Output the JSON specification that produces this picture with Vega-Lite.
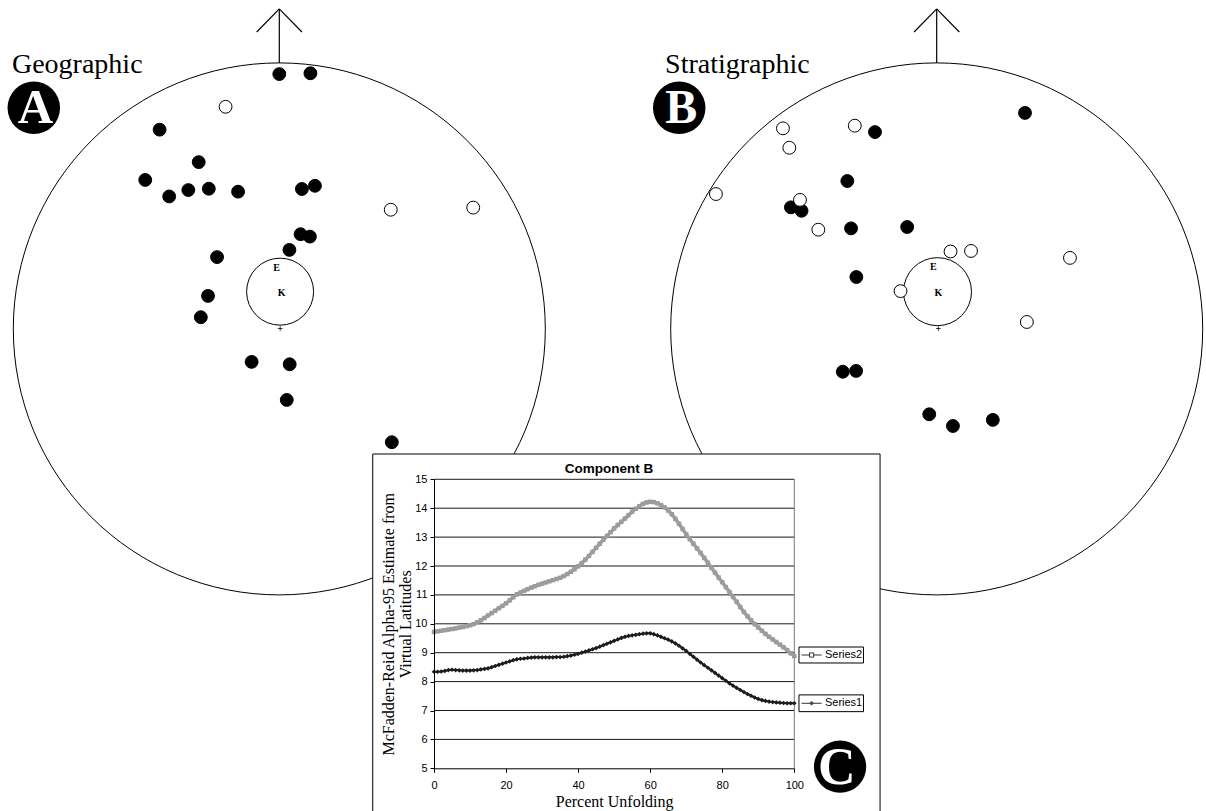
{
"$schema": "https://vega.github.io/schema/vega-lite/v6.json",
"width": 1206, "height": 811, "autosize": "none", "padding": 0, "background": "white",
"config": {"view": {"stroke": null}},
"datasets": {
"netA": [
{"x":0,"y":0.958,"polarity":"normal"},{"x":0.117,"y":0.961,"polarity":"normal"},{"x":-0.45,"y":0.749,"polarity":"normal"},{"x":-0.303,"y":0.627,"polarity":"normal"},{"x":-0.504,"y":0.56,"polarity":"normal"},{"x":-0.414,"y":0.498,"polarity":"normal"},{"x":-0.342,"y":0.522,"polarity":"normal"},{"x":-0.265,"y":0.527,"polarity":"normal"},{"x":-0.155,"y":0.516,"polarity":"normal"},{"x":0.085,"y":0.526,"polarity":"normal"},{"x":0.134,"y":0.538,"polarity":"normal"},{"x":0.08,"y":0.356,"polarity":"normal"},{"x":0.115,"y":0.347,"polarity":"normal"},{"x":0.038,"y":0.297,"polarity":"normal"},{"x":-0.234,"y":0.27,"polarity":"normal"},{"x":-0.268,"y":0.124,"polarity":"normal"},{"x":-0.295,"y":0.044,"polarity":"normal"},{"x":-0.104,"y":-0.124,"polarity":"normal"},{"x":0.039,"y":-0.133,"polarity":"normal"},{"x":0.028,"y":-0.267,"polarity":"normal"},{"x":0.423,"y":-0.426,"polarity":"normal"},
{"x":-0.202,"y":0.835,"polarity":"reversed"},{"x":0.419,"y":0.448,"polarity":"reversed"},{"x":0.729,"y":0.456,"polarity":"reversed"}
],
"netB": [
{"x":0.332,"y":0.812,"polarity":"normal"},{"x":-0.232,"y":0.74,"polarity":"normal"},{"x":-0.336,"y":0.556,"polarity":"normal"},{"x":-0.548,"y":0.457,"polarity":"normal"},{"x":-0.508,"y":0.444,"polarity":"normal"},{"x":-0.322,"y":0.378,"polarity":"normal"},{"x":-0.111,"y":0.383,"polarity":"normal"},{"x":-0.302,"y":0.195,"polarity":"normal"},{"x":-0.353,"y":-0.161,"polarity":"normal"},{"x":-0.303,"y":-0.158,"polarity":"normal"},{"x":-0.028,"y":-0.321,"polarity":"normal"},{"x":0.061,"y":-0.365,"polarity":"normal"},{"x":0.211,"y":-0.342,"polarity":"normal"},
{"x":-0.578,"y":0.754,"polarity":"reversed"},{"x":-0.554,"y":0.681,"polarity":"reversed"},{"x":-0.83,"y":0.507,"polarity":"reversed"},{"x":-0.308,"y":0.764,"polarity":"reversed"},{"x":-0.514,"y":0.485,"polarity":"reversed"},{"x":-0.445,"y":0.373,"polarity":"reversed"},{"x":0.052,"y":0.291,"polarity":"reversed"},{"x":0.129,"y":0.293,"polarity":"reversed"},{"x":0.501,"y":0.267,"polarity":"reversed"},{"x":0.339,"y":0.026,"polarity":"reversed"},{"x":-0.136,"y":0.142,"polarity":"reversed"}
],
"unfolding": [
{"pct":0,"value":9.72,"series":"Series2"},{"pct":1,"value":9.74,"series":"Series2"},{"pct":2,"value":9.76,"series":"Series2"},{"pct":3,"value":9.78,"series":"Series2"},{"pct":4,"value":9.8,"series":"Series2"},{"pct":5,"value":9.82,"series":"Series2"},{"pct":6,"value":9.84,"series":"Series2"},{"pct":7,"value":9.87,"series":"Series2"},{"pct":8,"value":9.89,"series":"Series2"},{"pct":9,"value":9.92,"series":"Series2"},{"pct":10,"value":9.95,"series":"Series2"},
{"pct":11,"value":9.99,"series":"Series2"},{"pct":12,"value":10.05,"series":"Series2"},{"pct":13,"value":10.12,"series":"Series2"},{"pct":14,"value":10.2,"series":"Series2"},{"pct":15,"value":10.29,"series":"Series2"},{"pct":16,"value":10.37,"series":"Series2"},{"pct":17,"value":10.45,"series":"Series2"},{"pct":18,"value":10.54,"series":"Series2"},{"pct":19,"value":10.62,"series":"Series2"},{"pct":20,"value":10.71,"series":"Series2"},
{"pct":21,"value":10.81,"series":"Series2"},{"pct":22,"value":10.92,"series":"Series2"},{"pct":23,"value":11.02,"series":"Series2"},{"pct":24,"value":11.08,"series":"Series2"},{"pct":25,"value":11.14,"series":"Series2"},{"pct":26,"value":11.2,"series":"Series2"},{"pct":27,"value":11.25,"series":"Series2"},{"pct":28,"value":11.3,"series":"Series2"},{"pct":29,"value":11.35,"series":"Series2"},{"pct":30,"value":11.39,"series":"Series2"},
{"pct":31,"value":11.43,"series":"Series2"},{"pct":32,"value":11.47,"series":"Series2"},{"pct":33,"value":11.51,"series":"Series2"},{"pct":34,"value":11.55,"series":"Series2"},{"pct":35,"value":11.59,"series":"Series2"},{"pct":36,"value":11.65,"series":"Series2"},{"pct":37,"value":11.72,"series":"Series2"},{"pct":38,"value":11.8,"series":"Series2"},{"pct":39,"value":11.89,"series":"Series2"},{"pct":40,"value":11.99,"series":"Series2"},
{"pct":41,"value":12.1,"series":"Series2"},{"pct":42,"value":12.22,"series":"Series2"},{"pct":43,"value":12.35,"series":"Series2"},{"pct":44,"value":12.49,"series":"Series2"},{"pct":45,"value":12.63,"series":"Series2"},{"pct":46,"value":12.77,"series":"Series2"},{"pct":47,"value":12.91,"series":"Series2"},{"pct":48,"value":13.04,"series":"Series2"},{"pct":49,"value":13.17,"series":"Series2"},{"pct":50,"value":13.3,"series":"Series2"},
{"pct":51,"value":13.42,"series":"Series2"},{"pct":52,"value":13.53,"series":"Series2"},{"pct":53,"value":13.64,"series":"Series2"},{"pct":54,"value":13.76,"series":"Series2"},{"pct":55,"value":13.88,"series":"Series2"},{"pct":56,"value":13.98,"series":"Series2"},{"pct":57,"value":14.07,"series":"Series2"},{"pct":58,"value":14.15,"series":"Series2"},{"pct":59,"value":14.2,"series":"Series2"},{"pct":60,"value":14.22,"series":"Series2"},
{"pct":61,"value":14.21,"series":"Series2"},{"pct":62,"value":14.17,"series":"Series2"},{"pct":63,"value":14.11,"series":"Series2"},{"pct":64,"value":14.03,"series":"Series2"},{"pct":65,"value":13.92,"series":"Series2"},{"pct":66,"value":13.79,"series":"Series2"},{"pct":67,"value":13.63,"series":"Series2"},{"pct":68,"value":13.46,"series":"Series2"},{"pct":69,"value":13.28,"series":"Series2"},{"pct":70,"value":13.1,"series":"Series2"},
{"pct":71,"value":12.93,"series":"Series2"},{"pct":72,"value":12.77,"series":"Series2"},{"pct":73,"value":12.61,"series":"Series2"},{"pct":74,"value":12.45,"series":"Series2"},{"pct":75,"value":12.28,"series":"Series2"},{"pct":76,"value":12.11,"series":"Series2"},{"pct":77,"value":11.94,"series":"Series2"},{"pct":78,"value":11.77,"series":"Series2"},{"pct":79,"value":11.6,"series":"Series2"},{"pct":80,"value":11.44,"series":"Series2"},
{"pct":81,"value":11.27,"series":"Series2"},{"pct":82,"value":11.1,"series":"Series2"},{"pct":83,"value":10.93,"series":"Series2"},{"pct":84,"value":10.76,"series":"Series2"},{"pct":85,"value":10.58,"series":"Series2"},{"pct":86,"value":10.41,"series":"Series2"},{"pct":87,"value":10.26,"series":"Series2"},{"pct":88,"value":10.12,"series":"Series2"},{"pct":89,"value":9.99,"series":"Series2"},{"pct":90,"value":9.87,"series":"Series2"},
{"pct":91,"value":9.76,"series":"Series2"},{"pct":92,"value":9.65,"series":"Series2"},{"pct":93,"value":9.55,"series":"Series2"},{"pct":94,"value":9.46,"series":"Series2"},{"pct":95,"value":9.37,"series":"Series2"},{"pct":96,"value":9.28,"series":"Series2"},{"pct":97,"value":9.19,"series":"Series2"},{"pct":98,"value":9.09,"series":"Series2"},{"pct":99,"value":8.98,"series":"Series2"},{"pct":100,"value":8.88,"series":"Series2"},
{"pct":0,"value":8.34,"series":"Series1"},{"pct":1,"value":8.34,"series":"Series1"},{"pct":2,"value":8.35,"series":"Series1"},{"pct":3,"value":8.37,"series":"Series1"},{"pct":4,"value":8.4,"series":"Series1"},{"pct":5,"value":8.41,"series":"Series1"},{"pct":6,"value":8.4,"series":"Series1"},{"pct":7,"value":8.39,"series":"Series1"},{"pct":8,"value":8.38,"series":"Series1"},{"pct":9,"value":8.38,"series":"Series1"},{"pct":10,"value":8.38,"series":"Series1"},
{"pct":11,"value":8.39,"series":"Series1"},{"pct":12,"value":8.4,"series":"Series1"},{"pct":13,"value":8.42,"series":"Series1"},{"pct":14,"value":8.44,"series":"Series1"},{"pct":15,"value":8.46,"series":"Series1"},{"pct":16,"value":8.5,"series":"Series1"},{"pct":17,"value":8.54,"series":"Series1"},{"pct":18,"value":8.58,"series":"Series1"},{"pct":19,"value":8.62,"series":"Series1"},{"pct":20,"value":8.66,"series":"Series1"},
{"pct":21,"value":8.7,"series":"Series1"},{"pct":22,"value":8.74,"series":"Series1"},{"pct":23,"value":8.77,"series":"Series1"},{"pct":24,"value":8.79,"series":"Series1"},{"pct":25,"value":8.8,"series":"Series1"},{"pct":26,"value":8.82,"series":"Series1"},{"pct":27,"value":8.83,"series":"Series1"},{"pct":28,"value":8.84,"series":"Series1"},{"pct":29,"value":8.84,"series":"Series1"},{"pct":30,"value":8.84,"series":"Series1"},
{"pct":31,"value":8.84,"series":"Series1"},{"pct":32,"value":8.84,"series":"Series1"},{"pct":33,"value":8.84,"series":"Series1"},{"pct":34,"value":8.85,"series":"Series1"},{"pct":35,"value":8.85,"series":"Series1"},{"pct":36,"value":8.86,"series":"Series1"},{"pct":37,"value":8.88,"series":"Series1"},{"pct":38,"value":8.9,"series":"Series1"},{"pct":39,"value":8.93,"series":"Series1"},{"pct":40,"value":8.96,"series":"Series1"},
{"pct":41,"value":9.0,"series":"Series1"},{"pct":42,"value":9.04,"series":"Series1"},{"pct":43,"value":9.08,"series":"Series1"},{"pct":44,"value":9.12,"series":"Series1"},{"pct":45,"value":9.16,"series":"Series1"},{"pct":46,"value":9.21,"series":"Series1"},{"pct":47,"value":9.26,"series":"Series1"},{"pct":48,"value":9.31,"series":"Series1"},{"pct":49,"value":9.36,"series":"Series1"},{"pct":50,"value":9.41,"series":"Series1"},
{"pct":51,"value":9.46,"series":"Series1"},{"pct":52,"value":9.51,"series":"Series1"},{"pct":53,"value":9.55,"series":"Series1"},{"pct":54,"value":9.58,"series":"Series1"},{"pct":55,"value":9.6,"series":"Series1"},{"pct":56,"value":9.62,"series":"Series1"},{"pct":57,"value":9.64,"series":"Series1"},{"pct":58,"value":9.66,"series":"Series1"},{"pct":59,"value":9.67,"series":"Series1"},{"pct":60,"value":9.67,"series":"Series1"},
{"pct":61,"value":9.64,"series":"Series1"},{"pct":62,"value":9.6,"series":"Series1"},{"pct":63,"value":9.55,"series":"Series1"},{"pct":64,"value":9.5,"series":"Series1"},{"pct":65,"value":9.45,"series":"Series1"},{"pct":66,"value":9.39,"series":"Series1"},{"pct":67,"value":9.32,"series":"Series1"},{"pct":68,"value":9.24,"series":"Series1"},{"pct":69,"value":9.15,"series":"Series1"},{"pct":70,"value":9.06,"series":"Series1"},
{"pct":71,"value":8.96,"series":"Series1"},{"pct":72,"value":8.86,"series":"Series1"},{"pct":73,"value":8.76,"series":"Series1"},{"pct":74,"value":8.66,"series":"Series1"},{"pct":75,"value":8.57,"series":"Series1"},{"pct":76,"value":8.48,"series":"Series1"},{"pct":77,"value":8.39,"series":"Series1"},{"pct":78,"value":8.3,"series":"Series1"},{"pct":79,"value":8.21,"series":"Series1"},{"pct":80,"value":8.12,"series":"Series1"},
{"pct":81,"value":8.03,"series":"Series1"},{"pct":82,"value":7.94,"series":"Series1"},{"pct":83,"value":7.86,"series":"Series1"},{"pct":84,"value":7.78,"series":"Series1"},{"pct":85,"value":7.71,"series":"Series1"},{"pct":86,"value":7.64,"series":"Series1"},{"pct":87,"value":7.57,"series":"Series1"},{"pct":88,"value":7.51,"series":"Series1"},{"pct":89,"value":7.45,"series":"Series1"},{"pct":90,"value":7.4,"series":"Series1"},
{"pct":91,"value":7.36,"series":"Series1"},{"pct":92,"value":7.33,"series":"Series1"},{"pct":93,"value":7.31,"series":"Series1"},{"pct":94,"value":7.29,"series":"Series1"},{"pct":95,"value":7.28,"series":"Series1"},{"pct":96,"value":7.27,"series":"Series1"},{"pct":97,"value":7.26,"series":"Series1"},{"pct":98,"value":7.25,"series":"Series1"},{"pct":99,"value":7.25,"series":"Series1"},{"pct":100,"value":7.25,"series":"Series1"}
]
},
"layer": [
{
"layer": [
{"data":{"values":[{}]},"mark":{"type":"point","shape":"circle","filled":false,"size":283024,"stroke":"black","strokeWidth":1,"opacity":1},
 "encoding":{"x":{"datum":0,"type":"quantitative","scale":{"domain":[-1,1],"range":[13.3,545.3],"nice":false,"zero":false},"axis":null},"y":{"datum":0,"type":"quantitative","scale":{"domain":[-1,1],"range":[594.9,62.9],"nice":false,"zero":false},"axis":null}}},
{"data":{"values":[{}]},"mark":{"type":"point","shape":"circle","filled":false,"size":4489,"stroke":"black","strokeWidth":1,"opacity":1},
 "encoding":{"x":{"datum":0.003,"type":"quantitative","scale":{"domain":[-1,1],"range":[13.3,545.3],"nice":false,"zero":false},"axis":null},"y":{"datum":0.14,"type":"quantitative","scale":{"domain":[-1,1],"range":[594.9,62.9],"nice":false,"zero":false},"axis":null}}},
{"data":{"values":[{}]},"mark":{"type":"rule","stroke":"black","strokeWidth":1.2},
 "encoding":{"x":{"datum":0,"type":"quantitative","scale":{"domain":[-1,1],"range":[13.3,545.3],"nice":false,"zero":false},"axis":null},"y":{"datum":1,"type":"quantitative","scale":{"domain":[-1,1],"range":[594.9,62.9],"nice":false,"zero":false},"axis":null},"y2":{"datum":1.203}}},
{"data":{"values":[{}]},"mark":{"type":"rule","stroke":"black","strokeWidth":1.2},
 "encoding":{"x":{"datum":-0.085,"type":"quantitative","scale":{"domain":[-1,1],"range":[13.3,545.3],"nice":false,"zero":false},"axis":null},"y":{"datum":1.116,"type":"quantitative","scale":{"domain":[-1,1],"range":[594.9,62.9],"nice":false,"zero":false},"axis":null},"x2":{"datum":0},"y2":{"datum":1.203}}},
{"data":{"values":[{}]},"mark":{"type":"rule","stroke":"black","strokeWidth":1.2},
 "encoding":{"x":{"datum":0.085,"type":"quantitative","scale":{"domain":[-1,1],"range":[13.3,545.3],"nice":false,"zero":false},"axis":null},"y":{"datum":1.116,"type":"quantitative","scale":{"domain":[-1,1],"range":[594.9,62.9],"nice":false,"zero":false},"axis":null},"x2":{"datum":0},"y2":{"datum":1.203}}},
{"data":{"values":[{}]},"mark":{"type":"text","text":"E","font":"Liberation Serif","fontSize":10,"fontWeight":"bold","color":"black"},
 "encoding":{"x":{"datum":-0.01,"type":"quantitative","scale":{"domain":[-1,1],"range":[13.3,545.3],"nice":false,"zero":false},"axis":null},"y":{"datum":0.228,"type":"quantitative","scale":{"domain":[-1,1],"range":[594.9,62.9],"nice":false,"zero":false},"axis":null}}},
{"data":{"values":[{}]},"mark":{"type":"text","text":"K","font":"Liberation Serif","fontSize":10,"fontWeight":"bold","color":"black"},
 "encoding":{"x":{"datum":0.009,"type":"quantitative","scale":{"domain":[-1,1],"range":[13.3,545.3],"nice":false,"zero":false},"axis":null},"y":{"datum":0.136,"type":"quantitative","scale":{"domain":[-1,1],"range":[594.9,62.9],"nice":false,"zero":false},"axis":null}}},
{"data":{"values":[{}]},"mark":{"type":"text","text":"+","font":"Liberation Serif","fontSize":10,"fontWeight":"bold","color":"black"},
 "encoding":{"x":{"datum":0.003,"type":"quantitative","scale":{"domain":[-1,1],"range":[13.3,545.3],"nice":false,"zero":false},"axis":null},"y":{"datum":0,"type":"quantitative","scale":{"domain":[-1,1],"range":[594.9,62.9],"nice":false,"zero":false},"axis":null}}},
{"data":{"values":[{}]},"mark":{"type":"text","text":"Geographic","font":"Liberation Serif","fontSize":28,"align":"left","baseline":"alphabetic","color":"black"},
 "encoding":{"x":{"datum":-1.005,"type":"quantitative","scale":{"domain":[-1,1],"range":[13.3,545.3],"nice":false,"zero":false},"axis":null},"y":{"datum":0.962,"type":"quantitative","scale":{"domain":[-1,1],"range":[594.9,62.9],"nice":false,"zero":false},"axis":null}}},
{"data":{"values":[{}]},"mark":{"type":"point","shape":"circle","filled":true,"size":2756,"color":"black","opacity":1},
 "encoding":{"x":{"datum":-0.923,"type":"quantitative","scale":{"domain":[-1,1],"range":[13.3,545.3],"nice":false,"zero":false},"axis":null},"y":{"datum":0.831,"type":"quantitative","scale":{"domain":[-1,1],"range":[594.9,62.9],"nice":false,"zero":false},"axis":null}}},
{"data":{"values":[{}]},"mark":{"type":"text","text":"A","font":"Liberation Serif","fontSize":49,"fontWeight":"bold","align":"center","baseline":"alphabetic","color":"white"},
 "encoding":{"x":{"datum":-0.917,"type":"quantitative","scale":{"domain":[-1,1],"range":[13.3,545.3],"nice":false,"zero":false},"axis":null},"y":{"datum":0.773,"type":"quantitative","scale":{"domain":[-1,1],"range":[594.9,62.9],"nice":false,"zero":false},"axis":null}}},
{"data":{"name":"netA"},"mark":{"type":"point","shape":"circle","filled":true,"size":165,"stroke":"black","strokeWidth":1,"opacity":1},
 "encoding":{"x":{"field":"x","type":"quantitative","scale":{"domain":[-1,1],"range":[13.3,545.3],"nice":false,"zero":false},"axis":null},"y":{"field":"y","type":"quantitative","scale":{"domain":[-1,1],"range":[594.9,62.9],"nice":false,"zero":false},"axis":null},
 "fill":{"field":"polarity","type":"nominal","scale":{"domain":["normal","reversed"],"range":["black","white"]},"legend":null}}}
]
},
{
"layer": [
{"data":{"values":[{}]},"mark":{"type":"point","shape":"circle","filled":false,"size":283024,"stroke":"black","strokeWidth":1,"opacity":1},
 "encoding":{"x":{"datum":0,"type":"quantitative","scale":{"domain":[-1,1],"range":[670.7,1202.7],"nice":false,"zero":false},"axis":null},"y":{"datum":0,"type":"quantitative","scale":{"domain":[-1,1],"range":[594.9,62.9],"nice":false,"zero":false},"axis":null}}},
{"data":{"values":[{}]},"mark":{"type":"point","shape":"circle","filled":false,"size":4624,"stroke":"black","strokeWidth":1,"opacity":1},
 "encoding":{"x":{"datum":0.003,"type":"quantitative","scale":{"domain":[-1,1],"range":[670.7,1202.7],"nice":false,"zero":false},"axis":null},"y":{"datum":0.14,"type":"quantitative","scale":{"domain":[-1,1],"range":[594.9,62.9],"nice":false,"zero":false},"axis":null}}},
{"data":{"values":[{}]},"mark":{"type":"rule","stroke":"black","strokeWidth":1.2},
 "encoding":{"x":{"datum":0,"type":"quantitative","scale":{"domain":[-1,1],"range":[670.7,1202.7],"nice":false,"zero":false},"axis":null},"y":{"datum":1,"type":"quantitative","scale":{"domain":[-1,1],"range":[594.9,62.9],"nice":false,"zero":false},"axis":null},"y2":{"datum":1.203}}},
{"data":{"values":[{}]},"mark":{"type":"rule","stroke":"black","strokeWidth":1.2},
 "encoding":{"x":{"datum":-0.085,"type":"quantitative","scale":{"domain":[-1,1],"range":[670.7,1202.7],"nice":false,"zero":false},"axis":null},"y":{"datum":1.116,"type":"quantitative","scale":{"domain":[-1,1],"range":[594.9,62.9],"nice":false,"zero":false},"axis":null},"x2":{"datum":0},"y2":{"datum":1.203}}},
{"data":{"values":[{}]},"mark":{"type":"rule","stroke":"black","strokeWidth":1.2},
 "encoding":{"x":{"datum":0.085,"type":"quantitative","scale":{"domain":[-1,1],"range":[670.7,1202.7],"nice":false,"zero":false},"axis":null},"y":{"datum":1.116,"type":"quantitative","scale":{"domain":[-1,1],"range":[594.9,62.9],"nice":false,"zero":false},"axis":null},"x2":{"datum":0},"y2":{"datum":1.203}}},
{"data":{"values":[{}]},"mark":{"type":"text","text":"E","font":"Liberation Serif","fontSize":10,"fontWeight":"bold","color":"black"},
 "encoding":{"x":{"datum":-0.013,"type":"quantitative","scale":{"domain":[-1,1],"range":[670.7,1202.7],"nice":false,"zero":false},"axis":null},"y":{"datum":0.232,"type":"quantitative","scale":{"domain":[-1,1],"range":[594.9,62.9],"nice":false,"zero":false},"axis":null}}},
{"data":{"values":[{}]},"mark":{"type":"text","text":"K","font":"Liberation Serif","fontSize":10,"fontWeight":"bold","color":"black"},
 "encoding":{"x":{"datum":0.006,"type":"quantitative","scale":{"domain":[-1,1],"range":[670.7,1202.7],"nice":false,"zero":false},"axis":null},"y":{"datum":0.136,"type":"quantitative","scale":{"domain":[-1,1],"range":[594.9,62.9],"nice":false,"zero":false},"axis":null}}},
{"data":{"values":[{}]},"mark":{"type":"text","text":"+","font":"Liberation Serif","fontSize":10,"fontWeight":"bold","color":"black"},
 "encoding":{"x":{"datum":0.006,"type":"quantitative","scale":{"domain":[-1,1],"range":[670.7,1202.7],"nice":false,"zero":false},"axis":null},"y":{"datum":0,"type":"quantitative","scale":{"domain":[-1,1],"range":[594.9,62.9],"nice":false,"zero":false},"axis":null}}},
{"data":{"values":[{}]},"mark":{"type":"text","text":"Stratigraphic","font":"Liberation Serif","fontSize":28,"align":"left","baseline":"alphabetic","color":"black"},
 "encoding":{"x":{"datum":-1.021,"type":"quantitative","scale":{"domain":[-1,1],"range":[670.7,1202.7],"nice":false,"zero":false},"axis":null},"y":{"datum":0.962,"type":"quantitative","scale":{"domain":[-1,1],"range":[594.9,62.9],"nice":false,"zero":false},"axis":null}}},
{"data":{"values":[{}]},"mark":{"type":"point","shape":"circle","filled":true,"size":2756,"color":"black","opacity":1},
 "encoding":{"x":{"datum":-0.968,"type":"quantitative","scale":{"domain":[-1,1],"range":[670.7,1202.7],"nice":false,"zero":false},"axis":null},"y":{"datum":0.831,"type":"quantitative","scale":{"domain":[-1,1],"range":[594.9,62.9],"nice":false,"zero":false},"axis":null}}},
{"data":{"values":[{}]},"mark":{"type":"text","text":"B","font":"Liberation Serif","fontSize":48,"fontWeight":"bold","align":"center","baseline":"alphabetic","color":"white"},
 "encoding":{"x":{"datum":-0.96,"type":"quantitative","scale":{"domain":[-1,1],"range":[670.7,1202.7],"nice":false,"zero":false},"axis":null},"y":{"datum":0.773,"type":"quantitative","scale":{"domain":[-1,1],"range":[594.9,62.9],"nice":false,"zero":false},"axis":null}}},
{"data":{"name":"netB"},"mark":{"type":"point","shape":"circle","filled":true,"size":165,"stroke":"black","strokeWidth":1,"opacity":1},
 "encoding":{"x":{"field":"x","type":"quantitative","scale":{"domain":[-1,1],"range":[670.7,1202.7],"nice":false,"zero":false},"axis":null},"y":{"field":"y","type":"quantitative","scale":{"domain":[-1,1],"range":[594.9,62.9],"nice":false,"zero":false},"axis":null},
 "fill":{"field":"polarity","type":"nominal","scale":{"domain":["normal","reversed"],"range":["black","white"]},"legend":null}}}
]
},
{
"layer": [
{"data":{"values":[{}]},"mark":{"type":"rect","fill":"white","stroke":"black","strokeWidth":1},
 "encoding":{"x":{"datum":-17,"type":"quantitative","scale":{"domain":[0,100],"range":[434,794.3],"nice":false,"zero":false}},"x2":{"datum":123.8},"y":{"datum":15.875,"type":"quantitative","scale":{"domain":[5,15],"range":[768.3,479.3],"nice":false,"zero":false}},"y2":{"datum":3.3}}},
{"data":{"values":[{"level":6},{"level":7},{"level":8},{"level":9},{"level":10},{"level":11},{"level":12},{"level":13},{"level":14},{"level":15}]},"mark":{"type":"rule","stroke":"#1a1a1a","strokeWidth":1},
 "encoding":{"x":{"datum":0,"type":"quantitative","scale":{"domain":[0,100],"range":[434,794.3],"nice":false,"zero":false}},"x2":{"datum":100},"y":{"field":"level","type":"quantitative","scale":{"domain":[5,15],"range":[768.3,479.3],"nice":false,"zero":false}}}},
{"data":{"values":[{}]},"mark":{"type":"rule","stroke":"#777777","strokeWidth":1},
 "encoding":{"x":{"datum":100,"type":"quantitative","scale":{"domain":[0,100],"range":[434,794.3],"nice":false,"zero":false}},"y":{"datum":5,"type":"quantitative","scale":{"domain":[5,15],"range":[768.3,479.3],"nice":false,"zero":false}},"y2":{"datum":15}}},
{"data":{"name":"unfolding"},"transform":[{"filter":"datum.series === 'Series2'"}],"mark":{"type":"line","stroke":"#9c9c9c","strokeWidth":3.5},
 "encoding":{"x":{"field":"pct","type":"quantitative","scale":{"domain":[0,100],"range":[434,794.3],"nice":false,"zero":false},
   "axis":{"orient":"bottom","offset":-42.7,"title":"Percent Unfolding","values":[0,20,40,60,80,100],"format":"d","grid":false,"domainColor":"black","tickColor":"black","tickSize":4,"labelPadding":7,"labelFont":"Liberation Sans","labelFontSize":11,"labelColor":"black","labelFlush":false,"titleFont":"Liberation Serif","titleFontSize":16,"titleFontWeight":"normal","titleColor":"black","titlePadding":3,"zindex":1}},
  "y":{"field":"value","type":"quantitative","scale":{"domain":[5,15],"range":[768.3,479.3],"nice":false,"zero":false},
   "axis":{"orient":"left","offset":-434,"title":["McFadden-Reid Alpha-95 Estimate from","Virtual Latitudes"],"values":[5,6,7,8,9,10,11,12,13,14,15],"format":"d","grid":false,"domainColor":"black","tickColor":"black","tickSize":4,"labelPadding":3,"labelFont":"Liberation Sans","labelFontSize":11,"labelColor":"black","labelFlush":false,"titleFont":"Liberation Serif","titleFontSize":16,"titleFontWeight":"normal","titleColor":"black","titlePadding":1,"titleLineHeight":17,"zindex":1}}}},
{"data":{"name":"unfolding"},"transform":[{"filter":"datum.series === 'Series2'"}],"mark":{"type":"point","shape":"square","filled":true,"size":20,"color":"#9c9c9c","opacity":1},
 "encoding":{"x":{"field":"pct","type":"quantitative","scale":{"domain":[0,100],"range":[434,794.3],"nice":false,"zero":false}},"y":{"field":"value","type":"quantitative","scale":{"domain":[5,15],"range":[768.3,479.3],"nice":false,"zero":false}}}},
{"data":{"name":"unfolding"},"transform":[{"filter":"datum.series === 'Series1'"}],"mark":{"type":"line","stroke":"#1c1c1c","strokeWidth":2},
 "encoding":{"x":{"field":"pct","type":"quantitative","scale":{"domain":[0,100],"range":[434,794.3],"nice":false,"zero":false}},"y":{"field":"value","type":"quantitative","scale":{"domain":[5,15],"range":[768.3,479.3],"nice":false,"zero":false}}}},
{"data":{"name":"unfolding"},"transform":[{"filter":"datum.series === 'Series1'"}],"mark":{"type":"point","shape":"diamond","filled":true,"size":22,"color":"#1c1c1c","opacity":1},
 "encoding":{"x":{"field":"pct","type":"quantitative","scale":{"domain":[0,100],"range":[434,794.3],"nice":false,"zero":false}},"y":{"field":"value","type":"quantitative","scale":{"domain":[5,15],"range":[768.3,479.3],"nice":false,"zero":false}}}},
{"data":{"values":[{}]},"mark":{"type":"text","text":"Component B","font":"Liberation Sans","fontSize":13.5,"fontWeight":"bold","align":"center","baseline":"alphabetic","color":"black"},
 "encoding":{"x":{"datum":48.6,"type":"quantitative","scale":{"domain":[0,100],"range":[434,794.3],"nice":false,"zero":false}},"y":{"datum":15.22,"type":"quantitative","scale":{"domain":[5,15],"range":[768.3,479.3],"nice":false,"zero":false}}}},
{"data":{"values":[{}]},"mark":{"type":"rect","fill":"white","stroke":"black","strokeWidth":1},
 "encoding":{"x":{"datum":101.3,"type":"quantitative","scale":{"domain":[0,100],"range":[434,794.3],"nice":false,"zero":false}},"x2":{"datum":119.2},"y":{"datum":9.197,"type":"quantitative","scale":{"domain":[5,15],"range":[768.3,479.3],"nice":false,"zero":false}},"y2":{"datum":8.644}}},
{"data":{"values":[{}]},"mark":{"type":"rule","stroke":"#333333","strokeWidth":1},
 "encoding":{"x":{"datum":102,"type":"quantitative","scale":{"domain":[0,100],"range":[434,794.3],"nice":false,"zero":false}},"x2":{"datum":107.6},"y":{"datum":8.92,"type":"quantitative","scale":{"domain":[5,15],"range":[768.3,479.3],"nice":false,"zero":false}}}},
{"data":{"values":[{}]},"mark":{"type":"point","shape":"square","filled":true,"size":18,"fill":"white","stroke":"#333333","strokeWidth":1,"opacity":1},
 "encoding":{"x":{"datum":104.8,"type":"quantitative","scale":{"domain":[0,100],"range":[434,794.3],"nice":false,"zero":false}},"y":{"datum":8.92,"type":"quantitative","scale":{"domain":[5,15],"range":[768.3,479.3],"nice":false,"zero":false}}}},
{"data":{"values":[{}]},"mark":{"type":"text","text":"Series2","font":"Liberation Sans","fontSize":11,"align":"left","baseline":"middle","color":"black"},
 "encoding":{"x":{"datum":108.5,"type":"quantitative","scale":{"domain":[0,100],"range":[434,794.3],"nice":false,"zero":false}},"y":{"datum":8.92,"type":"quantitative","scale":{"domain":[5,15],"range":[768.3,479.3],"nice":false,"zero":false}}}},
{"data":{"values":[{}]},"mark":{"type":"rect","fill":"white","stroke":"black","strokeWidth":1},
 "encoding":{"x":{"datum":101.3,"type":"quantitative","scale":{"domain":[0,100],"range":[434,794.3],"nice":false,"zero":false}},"x2":{"datum":119.2},"y":{"datum":7.54,"type":"quantitative","scale":{"domain":[5,15],"range":[768.3,479.3],"nice":false,"zero":false}},"y2":{"datum":6.96}}},
{"data":{"values":[{}]},"mark":{"type":"rule","stroke":"#333333","strokeWidth":1},
 "encoding":{"x":{"datum":102,"type":"quantitative","scale":{"domain":[0,100],"range":[434,794.3],"nice":false,"zero":false}},"x2":{"datum":107.6},"y":{"datum":7.25,"type":"quantitative","scale":{"domain":[5,15],"range":[768.3,479.3],"nice":false,"zero":false}}}},
{"data":{"values":[{}]},"mark":{"type":"point","shape":"diamond","filled":true,"size":22,"color":"#444444","opacity":1},
 "encoding":{"x":{"datum":104.8,"type":"quantitative","scale":{"domain":[0,100],"range":[434,794.3],"nice":false,"zero":false}},"y":{"datum":7.25,"type":"quantitative","scale":{"domain":[5,15],"range":[768.3,479.3],"nice":false,"zero":false}}}},
{"data":{"values":[{}]},"mark":{"type":"text","text":"Series1","font":"Liberation Sans","fontSize":11,"align":"left","baseline":"middle","color":"black"},
 "encoding":{"x":{"datum":108.5,"type":"quantitative","scale":{"domain":[0,100],"range":[434,794.3],"nice":false,"zero":false}},"y":{"datum":7.25,"type":"quantitative","scale":{"domain":[5,15],"range":[768.3,479.3],"nice":false,"zero":false}}}},
{"data":{"values":[{}]},"mark":{"type":"point","shape":"circle","filled":true,"size":2735,"color":"black","opacity":1},
 "encoding":{"x":{"datum":112.7,"type":"quantitative","scale":{"domain":[0,100],"range":[434,794.3],"nice":false,"zero":false}},"y":{"datum":5.055,"type":"quantitative","scale":{"domain":[5,15],"range":[768.3,479.3],"nice":false,"zero":false}}}},
{"data":{"values":[{}]},"mark":{"type":"text","text":"C","font":"Liberation Serif","fontSize":52,"fontWeight":"bold","align":"center","baseline":"alphabetic","color":"white"},
 "encoding":{"x":{"datum":111.8,"type":"quantitative","scale":{"domain":[0,100],"range":[434,794.3],"nice":false,"zero":false}},"y":{"datum":4.474,"type":"quantitative","scale":{"domain":[5,15],"range":[768.3,479.3],"nice":false,"zero":false}}}}
]
}
],
"resolve": {"scale": {"x": "independent", "y": "independent"}}
}
